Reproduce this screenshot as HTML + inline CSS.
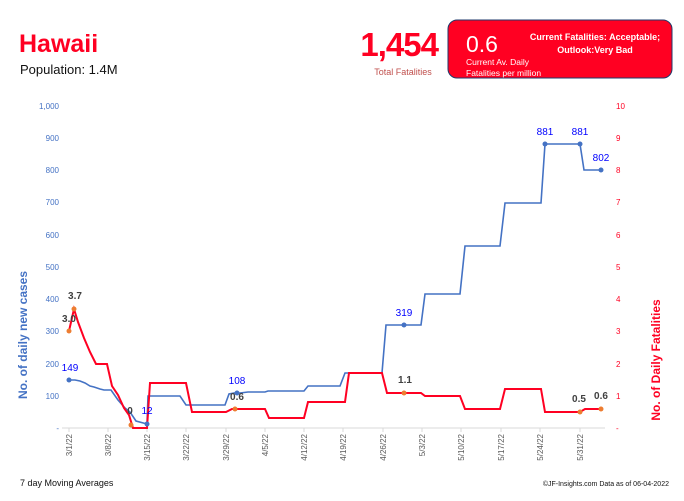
<!DOCTYPE html>
<html><head><meta charset="utf-8"><style>
body{margin:0;background:#fff;width:684px;height:496px;overflow:hidden;font-family:"Liberation Sans",sans-serif}
</style></head><body>
<svg width="684" height="496" viewBox="0 0 684 496" xmlns="http://www.w3.org/2000/svg" font-family="Liberation Sans, sans-serif">
<text x="19" y="52" font-size="25" font-weight="bold" fill="#ff0022">Hawaii</text>
<text x="20" y="74" font-size="13" fill="#111">Population: 1.4M</text>
<text x="438" y="56" font-size="33" font-weight="bold" fill="#ff0022" text-anchor="end" letter-spacing="-1">1,454</text>
<text x="403" y="75" font-size="9" fill="#c0504d" text-anchor="middle">Total Fatalities</text>
<rect x="448" y="20" width="224" height="58" rx="9" fill="#ff0022" stroke="#1f3a6b" stroke-width="1"/>
<text x="466" y="52" font-size="23" fill="#fff">0.6</text>
<text x="466" y="65" font-size="8.5" fill="#fff">Current Av. Daily</text>
<text x="466" y="76" font-size="8.5" fill="#fff">Fatalities per million</text>
<text x="595" y="40" font-size="9" font-weight="bold" fill="#fff" text-anchor="middle">Current Fatalities: Acceptable;</text>
<text x="595" y="53" font-size="9" font-weight="bold" fill="#fff" text-anchor="middle">Outlook:Very Bad</text>
<g font-size="8" fill="#4472c4" text-anchor="end">
<text x="59" y="109">1,000</text><text x="59" y="141">900</text><text x="59" y="173">800</text><text x="59" y="205">700</text><text x="59" y="238">600</text><text x="59" y="270">500</text><text x="59" y="302">400</text><text x="59" y="334">300</text><text x="59" y="367">200</text><text x="59" y="399">100</text><text x="59" y="431">-</text>
</g>
<g font-size="8" fill="#ff0022">
<text x="616" y="109">10</text><text x="616" y="141">9</text><text x="616" y="173">8</text><text x="616" y="205">7</text><text x="616" y="238">6</text><text x="616" y="270">5</text><text x="616" y="302">4</text><text x="616" y="334">3</text><text x="616" y="367">2</text><text x="616" y="399">1</text><text x="616" y="431">-</text>
</g>
<text transform="translate(27,335) rotate(-90)" font-size="12" font-weight="bold" fill="#4472c4" text-anchor="middle">No. of daily new  cases</text>
<text transform="translate(660,360) rotate(-90)" font-size="12" font-weight="bold" fill="#ff0022" text-anchor="middle">No. of Daily Fatalities</text>
<line x1="62" y1="428" x2="605" y2="428" stroke="#d9d9d9"/>
<g stroke="#d9d9d9">
<line x1="69" y1="428" x2="69" y2="432"/><line x1="108" y1="428" x2="108" y2="432"/><line x1="147" y1="428" x2="147" y2="432"/><line x1="186" y1="428" x2="186" y2="432"/><line x1="226" y1="428" x2="226" y2="432"/><line x1="265" y1="428" x2="265" y2="432"/><line x1="304" y1="428" x2="304" y2="432"/><line x1="343" y1="428" x2="343" y2="432"/><line x1="383" y1="428" x2="383" y2="432"/><line x1="422" y1="428" x2="422" y2="432"/><line x1="461" y1="428" x2="461" y2="432"/><line x1="501" y1="428" x2="501" y2="432"/><line x1="540" y1="428" x2="540" y2="432"/><line x1="580" y1="428" x2="580" y2="432"/>
</g>
<g font-size="8" fill="#595959" text-anchor="end">
<text transform="translate(72,434) rotate(-90)">3/1/22</text>
<text transform="translate(111,434) rotate(-90)">3/8/22</text>
<text transform="translate(150,434) rotate(-90)">3/15/22</text>
<text transform="translate(189,434) rotate(-90)">3/22/22</text>
<text transform="translate(229,434) rotate(-90)">3/29/22</text>
<text transform="translate(268,434) rotate(-90)">4/5/22</text>
<text transform="translate(307,434) rotate(-90)">4/12/22</text>
<text transform="translate(346,434) rotate(-90)">4/19/22</text>
<text transform="translate(386,434) rotate(-90)">4/26/22</text>
<text transform="translate(425,434) rotate(-90)">5/3/22</text>
<text transform="translate(464,434) rotate(-90)">5/10/22</text>
<text transform="translate(504,434) rotate(-90)">5/17/22</text>
<text transform="translate(543,434) rotate(-90)">5/24/22</text>
<text transform="translate(583,434) rotate(-90)">5/31/22</text>
</g>
<polyline fill="none" stroke="#4472c4" stroke-width="1.6" points="69,380 75,380 80,381 85,383 90,386 94,387 100,389 104,390 111,390 118,400 125,408 130,412 136,421 147,424 148,396 180,396 186,405 225,405 229,394 234,393 240,393 248,392 265,392 268,391 304,391 308,386 340,386 345,373 382,373 386,325 421,325 425,294 460,294 465,246 500,246 505,203 541,203 545,144 580,144 584,170 601,170"/>
<polyline fill="none" stroke="#ff0022" stroke-width="2" points="69,331 74,309 78,322 84,338 90,352 96,364 107,364 112,386 118,395 124,408 129,415 133,428 147,428 150,383 186,383 192,412 226,412 232,409 265,409 269,418 304,418 308,402 345,402 349,373 382,373 387,393 421,393 425,396 460,396 465,409 500,409 505,389 541,389 545,412 580,412 585,409 601,409"/>
<g fill="#ed7d31">
<circle cx="69" cy="331" r="2.5"/><circle cx="74" cy="309" r="2.5"/><circle cx="131" cy="425" r="2.5"/><circle cx="235" cy="409" r="2.5"/><circle cx="404" cy="393" r="2.5"/><circle cx="580" cy="412" r="2.5"/><circle cx="601" cy="409" r="2.5"/>
</g>
<g fill="#4472c4">
<circle cx="69" cy="380" r="2.5"/><circle cx="147" cy="424" r="2.5"/><circle cx="237" cy="393" r="2.5"/><circle cx="404" cy="325" r="2.5"/><circle cx="545" cy="144" r="2.5"/><circle cx="580" cy="144" r="2.5"/><circle cx="601" cy="170" r="2.5"/>
</g>
<g font-size="10" fill="#0000ff" text-anchor="middle">
<text x="70" y="371">149</text><text x="147" y="414">12</text><text x="237" y="384">108</text><text x="404" y="316">319</text><text x="545" y="135">881</text><text x="580" y="135">881</text><text x="601" y="161">802</text>
</g>
<g font-size="10" font-weight="bold" fill="#404040" text-anchor="middle">
<text x="69" y="322">3.0</text><text x="75" y="299">3.7</text><text x="130" y="414">0</text><text x="237" y="400">0.6</text><text x="405" y="383">1.1</text><text x="579" y="402">0.5</text><text x="601" y="399">0.6</text>
</g>
<text x="20" y="486" font-size="9" fill="#111">7 day Moving Averages</text>
<text x="669" y="486" font-size="7" fill="#111" text-anchor="end">©JF-Insights.com  Data as of 06-04-2022</text>
</svg>
</body></html>
